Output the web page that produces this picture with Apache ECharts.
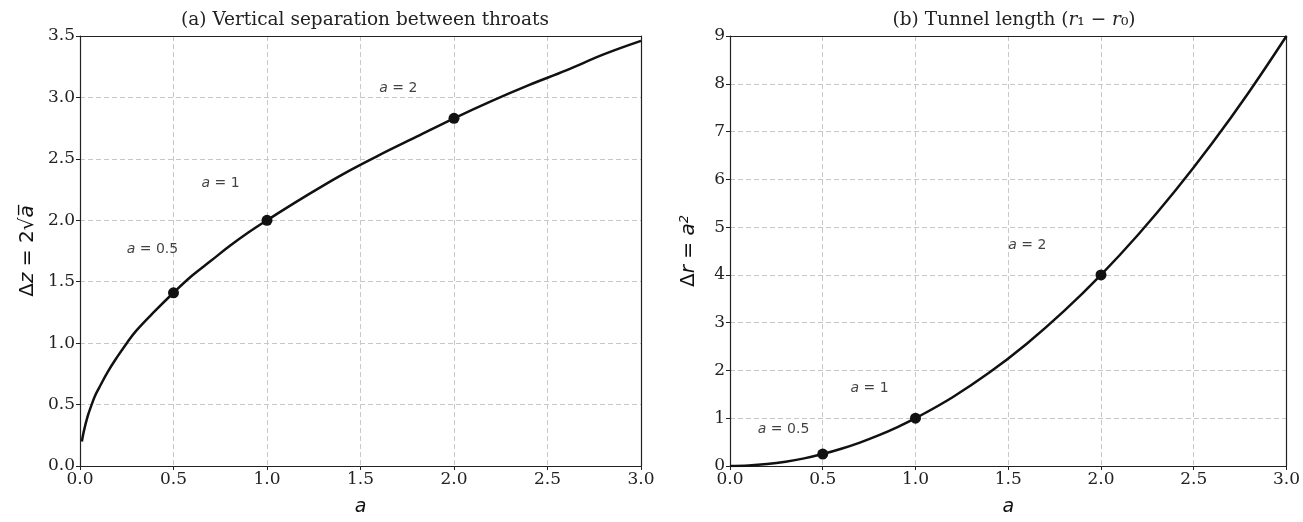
<!DOCTYPE html>
<html>
<head>
<meta charset="utf-8">
<script src="https://cdn.jsdelivr.net/npm/echarts@6/dist/echarts.min.js"></script>
<style>
  html, body { margin: 0; padding: 0; background: #fff; }
  #chart { width: 1303px; height: 522px; }
</style>
</head>
<body>
<div id="chart"></div>
<script>
// left panel: vertical separation 2*sqrt(a)
const sepX = [0.01, 0.02, 0.04, 0.06, 0.08, 0.1, 0.15, 0.2, 0.25, 0.3, 0.4, 0.5, 0.6, 0.7, 0.8, 0.9, 1.0, 1.2, 1.4, 1.6, 1.8, 2.0, 2.2, 2.4, 2.6, 2.8, 3.0];
const sepY = [0.20, 0.28, 0.40, 0.49, 0.57, 0.63, 0.77, 0.89, 1.00, 1.10, 1.26, 1.41, 1.55, 1.67, 1.79, 1.90, 2.00, 2.19, 2.37, 2.53, 2.68, 2.83, 2.97, 3.10, 3.22, 3.35, 3.46];
const sepMarkX = [0.5, 1.0, 2.0];
const sepMarkY = [1.41, 2.00, 2.83];
const sepNoteX = [0.25, 0.65, 1.6];
const sepNoteY = [1.76, 2.30, 3.07];

// right panel: tunnel length a^2
const lenX = [0, 0.1, 0.2, 0.3, 0.4, 0.5, 0.6, 0.7, 0.8, 0.9, 1.0, 1.2, 1.4, 1.6, 1.8, 2.0, 2.2, 2.4, 2.6, 2.8, 3.0];
const lenY = [0, 0.01, 0.04, 0.09, 0.16, 0.25, 0.36, 0.49, 0.64, 0.81, 1.00, 1.44, 1.96, 2.56, 3.24, 4.00, 4.84, 5.76, 6.76, 7.84, 9.00];
const lenMarkX = [0.5, 1.0, 2.0];
const lenMarkY = [0.25, 1.00, 4.00];
const lenNoteX = [0.15, 0.65, 1.5];
const lenNoteY = [0.77, 1.62, 4.62];

const noteText = ['0.5', '1', '2'];

const serif = 'DejaVu Serif';
const sans = 'DejaVu Sans';
const ink = '#111';

const chart = echarts.init(document.getElementById('chart'));

function zip(xs, ys) { return xs.map((x, i) => [x, ys[i]]); }

const gridLine = { show: true, lineStyle: { type: [5, 3], color: '#c8c8c8', width: 1 } };
const spine = { show: true, onZero: false, lineStyle: { color: '#222', width: 1.2 } };

function xAxisFor(idx) {
  return {
    type: 'value', gridIndex: idx, min: 0, max: 3, interval: 0.5,
    name: 'a', nameLocation: 'middle', nameGap: 32,
    nameTextStyle: { fontFamily: sans, fontStyle: 'italic', fontSize: 19, color: ink },
    axisLine: spine,
    axisTick: { show: true, length: 4, lineStyle: { color: '#222' } },
    axisLabel: { fontFamily: serif, fontSize: 17, color: '#222', margin: 5,
      formatter: v => v.toFixed(1) },
    splitLine: gridLine
  };
}

function yAxisFor(idx, max, interval, dec, name) {
  return {
    type: 'value', gridIndex: idx, min: 0, max: max, interval: interval,
    name: name, nameLocation: 'middle', nameGap: dec ? 42 : 30, nameRotate: 90,
    nameTextStyle: { fontFamily: sans, fontSize: 20, color: ink, rich: nameRich },
    axisLine: spine,
    axisTick: { show: true, length: 4, lineStyle: { color: '#222' } },
    axisLabel: { fontFamily: serif, fontSize: 17, color: '#222', margin: 5,
      formatter: v => dec ? v.toFixed(1) : String(v) },
    splitLine: gridLine
  };
}

// top / right spines only
function frameX(idx) {
  return { type: 'value', gridIndex: idx, position: 'top', min: 0, max: 3,
    axisLine: spine, axisTick: { show: false }, axisLabel: { show: false }, splitLine: { show: false } };
}
function frameY(idx, max) {
  return { type: 'value', gridIndex: idx, position: 'right', min: 0, max: max,
    axisLine: spine, axisTick: { show: false }, axisLabel: { show: false }, splitLine: { show: false } };
}

function notes(xs, ys, idx) {
  return {
    type: 'scatter', xAxisIndex: idx, yAxisIndex: idx, symbolSize: 0, silent: true,
    data: xs.map((x, i) => ({ value: [x, ys[i]], name: noteText[i] })),
    label: {
      show: true, position: 'right', distance: 0,
      formatter: p => '{i|a} = ' + p.name,
      fontFamily: sans, fontSize: 14, color: ink,
      rich: { i: { fontFamily: sans, fontStyle: 'italic', fontSize: 14, color: ink } }
    }
  };
}

const nameRich = {
  i: { fontFamily: sans, fontStyle: 'italic', fontSize: 20, color: ink },
  s: { fontFamily: sans, fontStyle: 'italic', fontSize: 13, color: ink, verticalAlign: 'top', padding: [0, 0, 9, 0] }
};

const option = {
  animation: false,
  backgroundColor: '#fff',
  title: [
    { text: '(a) Vertical separation between throats', left: 360, top: 6, textAlign: 'center',
      textStyle: { fontFamily: serif, fontSize: 18.5, fontWeight: 'normal', color: '#222' } },
    { text: '(b) Tunnel length ({i|r}₁ − {i|r}₀)', left: 1009, top: 6, textAlign: 'center',
      textStyle: { fontFamily: serif, fontSize: 18.5, fontWeight: 'normal', color: '#222',
        rich: { i: { fontFamily: serif, fontStyle: 'italic', fontSize: 18.5, color: '#222' } } } }
  ],
  grid: [
    { left: 80, top: 36, width: 561, height: 433 },
    { left: 730, top: 36, width: 559, height: 433 }
  ],
  xAxis: [xAxisFor(0), xAxisFor(1), frameX(0), frameX(1)],
  yAxis: [
    yAxisFor(0, 3.5, 0.5, true, 'Δ{i|z} = 2√{i|a̅}'),
    yAxisFor(1, 9, 1, false, 'Δ{i|r} = {i|a}{s|2}'),
    frameY(0, 3.5), frameY(1, 9)
  ],
  series: [
    { type: 'line', xAxisIndex: 0, yAxisIndex: 0, data: zip(sepX, sepY), smooth: 0.4,
      showSymbol: false, lineStyle: { color: ink, width: 2.5 } },
    { type: 'scatter', xAxisIndex: 0, yAxisIndex: 0, data: zip(sepMarkX, sepMarkY),
      symbolSize: 11, itemStyle: { color: ink, opacity: 1 } },
    notes(sepNoteX, sepNoteY, 0),
    { type: 'line', xAxisIndex: 1, yAxisIndex: 1, data: zip(lenX, lenY), smooth: 0.4,
      showSymbol: false, lineStyle: { color: ink, width: 2.5 } },
    { type: 'scatter', xAxisIndex: 1, yAxisIndex: 1, data: zip(lenMarkX, lenMarkY),
      symbolSize: 11, itemStyle: { color: ink, opacity: 1 } },
    notes(lenNoteX, lenNoteY, 1)
  ]
};

chart.setOption(option);
window.addEventListener('resize', () => chart.resize());
</script>
</body>
</html>
